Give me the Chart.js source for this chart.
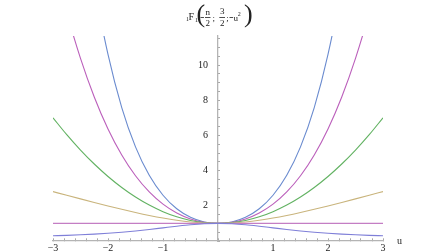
<!DOCTYPE html>
<html>
<head>
<meta charset="utf-8">
<script src="https://cdn.jsdelivr.net/npm/chart.js@4/dist/chart.umd.min.js"></script>
<style>
  html, body { margin: 0; padding: 0; background: #fff; }
  canvas { display: block; }
</style>
</head>
<body>
<canvas id="grafico" width="448" height="252"></canvas>
<script>
// u values (horizontal axis)
const uValues = [-3, -2.75, -2.5, -2.25, -2, -1.75, -1.5, -1.25, -1, -0.75, -0.5, -0.25, 0,
                 0.25, 0.5, 0.75, 1, 1.25, 1.5, 1.75, 2, 2.25, 2.5, 2.75, 3];

// 1F1(-n/2; 3/2; -u^2), one array per n
const nMinus1 = [0.295, 0.322, 0.354, 0.393, 0.441, 0.500, 0.571, 0.654, 0.747, 0.840, 0.923, 0.980, 1,
                 0.980, 0.923, 0.840, 0.747, 0.654, 0.571, 0.500, 0.441, 0.393, 0.354, 0.322, 0.295];
const n0 = [1, 1, 1, 1, 1, 1, 1, 1, 1, 1, 1, 1, 1,
            1, 1, 1, 1, 1, 1, 1, 1, 1, 1, 1, 1];
const n1 = [2.806, 2.598, 2.393, 2.191, 1.994, 1.803, 1.622, 1.454, 1.304, 1.178, 1.081, 1.021, 1,
            1.021, 1.081, 1.178, 1.304, 1.454, 1.622, 1.803, 1.994, 2.191, 2.393, 2.598, 2.806];
const n2 = [7, 6.042, 5.167, 4.375, 3.667, 3.042, 2.5, 2.042, 1.667, 1.375, 1.167, 1.042, 1,
            1.042, 1.167, 1.375, 1.667, 2.042, 2.5, 3.042, 3.667, 4.375, 5.167, 6.042, 7];
const n3 = [16.06, 12.99, 10.38, 8.186, 6.370, 4.891, 3.710, 2.791, 2.096, 1.593, 1.256, 1.063, 1,
            1.063, 1.256, 1.593, 2.096, 2.791, 3.710, 4.891, 6.370, 8.186, 10.38, 12.99, 16.06];
const n4 = [34.6, 26.34, 19.75, 14.58, 10.6, 7.584, 5.35, 3.734, 2.6, 1.834, 1.35, 1.084, 1,
            1.084, 1.35, 1.834, 2.6, 3.734, 5.35, 7.584, 10.6, 14.58, 19.75, 26.34, 34.6];

const series = [nMinus1, n0, n1, n2, n3, n4];
const colors = ['#7f7fd8', '#c47ec4', '#c9b47c', '#62b262', '#bb5fbb', '#6a8bcf'];

const xLabels = [-3, -2, -1, 1, 2, 3];
const yLabels = [2, 4, 6, 8, 10];

const serif = '"Liberation Serif", "DejaVu Serif", serif';

function pontos(ys) {
  return uValues.map((u, i) => ({ x: u, y: ys[i] }));
}

// title 1F1(-n/2; 3/2; -u^2) drawn above the plot
const tituloPlugin = {
  id: 'titulo',
  afterDraw(chart) {
    const ctx = chart.ctx;
    const cx = (chart.chartArea.left + chart.chartArea.right) / 2;
    const f = s => s + 'px ' + serif;
    ctx.save();
    ctx.fillStyle = '#222';
    ctx.strokeStyle = '#222';
    ctx.lineWidth = 0.8;
    ctx.textBaseline = 'alphabetic';
    ctx.textAlign = 'left';

    ctx.font = f(6); ctx.fillText('1', cx - 32, 21);
    ctx.font = f(10); ctx.fillText('F', cx - 29.5, 20);
    ctx.font = f(6); ctx.fillText('1', cx - 23, 22);
    ctx.font = f(26); ctx.fillText('(', cx - 21.5, 22);

    ctx.font = f(9);
    ctx.textAlign = 'center';
    ctx.fillText('n', cx - 10.2, 15);
    ctx.fillText('2', cx - 10.2, 25.5);
    ctx.fillText('3', cx + 4.3, 14);
    ctx.fillText('2', cx + 4.3, 25.5);
    ctx.textAlign = 'left';
    ctx.fillText(';', cx - 5.5, 20.5);
    ctx.fillText(';', cx + 8.3, 20.5);
    ctx.fillText('u', cx + 15.5, 20.5);
    ctx.font = f(6); ctx.fillText('2', cx + 19.8, 16);
    ctx.font = f(26); ctx.fillText(')', cx + 26, 22);

    // minus signs and fraction bars
    ctx.beginPath();
    ctx.moveTo(cx - 17.5, 17.5); ctx.lineTo(cx - 14, 17.5);
    ctx.moveTo(cx - 13, 17.5); ctx.lineTo(cx - 7.5, 17.5);
    ctx.moveTo(cx + 1.3, 17.5); ctx.lineTo(cx + 7, 17.5);
    ctx.moveTo(cx + 11.5, 17.5); ctx.lineTo(cx + 15, 17.5);
    ctx.stroke();

    // axis name
    ctx.font = f(10);
    ctx.textAlign = 'left';
    ctx.fillText('u', chart.chartArea.right + 14, 244);
    ctx.restore();
  }
};

new Chart(document.getElementById('grafico'), {
  type: 'line',
  data: {
    datasets: series.map((s, i) => ({
      data: pontos(s),
      borderColor: colors[i],
      borderWidth: 1.1,
      pointRadius: 0,
      fill: false,
      cubicInterpolationMode: 'monotone'
    }))
  },
  options: {
    responsive: false,
    animation: false,
    devicePixelRatio: 1,
    layout: { padding: { left: 53, right: 65, top: 36, bottom: 11 } },
    plugins: { legend: { display: false }, tooltip: { enabled: false } },
    scales: {
      x: {
        type: 'linear',
        position: { y: 0 },
        min: -3,
        max: 3,
        grid: { drawOnChartArea: false, drawTicks: true, tickLength: -3, color: '#a8a8a8' },
        border: { display: true, color: '#b4b4b4', width: 1.3 },
        ticks: {
          stepSize: 0.2,
          autoSkip: false,
          maxRotation: 0,
          padding: 4,
          color: '#222',
          font: { family: serif, size: 10 },
          callback: v => {
            const r = Math.round(v);
            if (Math.abs(v - r) > 1e-6 || !xLabels.includes(r)) return '';
            return r < 0 ? '\u2212' + (-r) : String(r);
          }
        }
      },
      y: {
        type: 'linear',
        position: { x: 0 },
        min: 0,
        max: 11.65,
        grid: { drawOnChartArea: false, drawTicks: true, tickLength: -3, color: '#a8a8a8' },
        border: { display: true, color: '#b4b4b4', width: 1.3 },
        ticks: {
          stepSize: 0.5,
          includeBounds: false,
          autoSkip: false,
          color: '#222',
          font: { family: serif, size: 10 },
          // labels sit right against an axis placed at x = 0, so pad them with spaces
          callback: v => {
            const r = Math.round(v);
            return (Math.abs(v - r) < 1e-6 && yLabels.includes(r)) ? r + '\u2002\u2002' : '';
          }
        }
      }
    }
  },
  plugins: [tituloPlugin]
});
</script>
</body>
</html>
